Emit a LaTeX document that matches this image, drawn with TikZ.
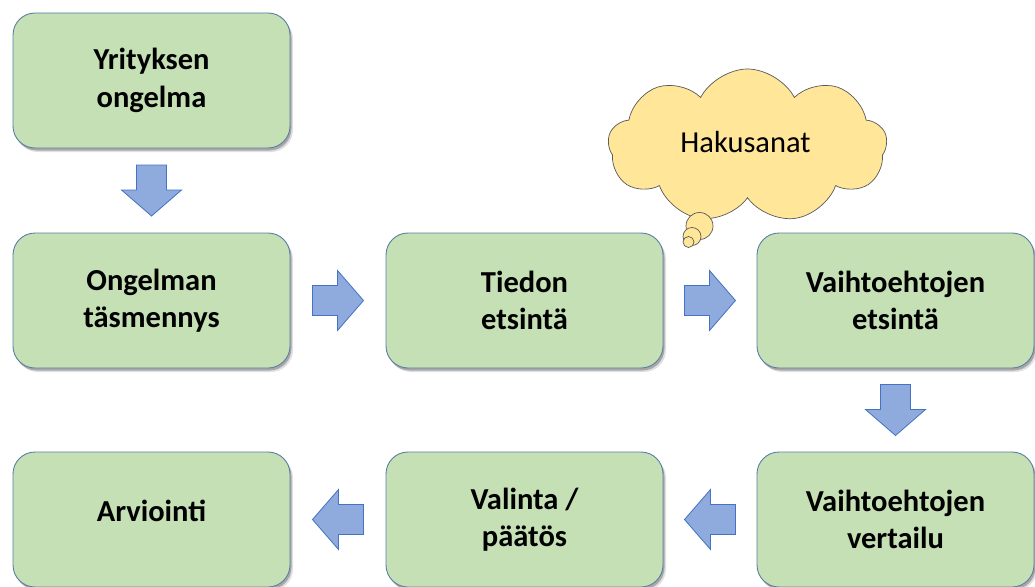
\documentclass[tikz,border=0pt]{standalone}
\usepackage{fontspec}
\setmainfont{Carlito}
\usetikzlibrary{shapes.symbols,shadows,calc}
\definecolor{boxfill}{HTML}{C5E0B4}
\definecolor{boxline}{HTML}{5B7FA6}
\definecolor{arrowfill}{HTML}{8FAADC}
\definecolor{arrowline}{HTML}{4472C4}
\definecolor{cloudfill}{HTML}{FFE699}
\definecolor{cloudline}{HTML}{595959}
\begin{document}
\begin{tikzpicture}[x=1pt,y=-1pt,
  stage/.style={draw=boxline, line width=0.9pt, fill=boxfill,
    rounded corners=22pt, minimum width=277pt, minimum height=135pt,
    inner sep=0pt, align=center, text=black,
    font=\fontsize{30.5}{37.5}\selectfont\bfseries,
    drop shadow={shadow xshift=3pt, shadow yshift=-4pt, opacity=0.12, fill=black},
    drop shadow={shadow xshift=1.5pt, shadow yshift=-2.5pt, opacity=0.25, fill=black}},
  arrowstyle/.style={draw=arrowline, line width=0.8pt, fill=arrowfill, line join=miter},
  barrow/.pic={\draw[arrowstyle] (-25.5,-15) -- (-0.5,-15) -- (-0.5,-30)
      -- (25.5,0) -- (-0.5,30) -- (-0.5,15) -- (-25.5,15) -- cycle;},
  bubble/.style={circle, draw=cloudline, line width=0.7pt, fill=cloudfill, inner sep=0pt}
]
\fill[white] (0,0) rectangle (1035,586);
\useasboundingbox (0,0) rectangle (1035,586);

% process stages
\node[stage] (p1) at (151.5,80.5)  {Yrityksen\\ongelma};
\node[stage] (p2) at (151.5,300.5) {Ongelman\\täsmennys};
\node[stage] (p3) at (524.5,300.5) {Tiedon\\etsintä};
\node[stage] (p4) at (895.5,300.5) {Vaihtoehtojen\\etsintä};
\node[stage] (p5) at (895.5,519.5) {Vaihtoehtojen\\vertailu};
\node[stage] (p6) at (524.5,519.5) {Valinta /\\päätös};
\node[stage, text depth=18pt] (p7) at (151.5,519.5) {Arviointi};

% block arrows between the stages
\pic[rotate=-90] at ($(p1.south)!0.5!(p2.north)$) {barrow};
\pic at ($(p2.east)!0.5!(p3.west)$) {barrow};
\pic at ($(p3.east)!0.5!(p4.west)$) {barrow};
\pic[rotate=-90] at ($(p4.south)!0.5!(p5.north)$) {barrow};
\pic[rotate=180] at ($(p5.west)!0.5!(p6.east)$) {barrow};
\pic[rotate=180] at ($(p6.west)!0.5!(p7.east)$) {barrow};

% thought cloud with keywords
\node[cloud, cloud puffs=9, cloud puff arc=125, aspect=1.85, draw=cloudline, line width=0.7pt,
  fill=cloudfill, minimum width=279pt, minimum height=154pt, inner sep=0pt]
  (kw) at (747.5,146) {};
\node[font=\fontsize{30.5}{37.5}\selectfont] (kwtext) at (745.5,142) {Hakusanat};
\node[bubble, minimum size=27pt] (b1) at (699.5,226) {};
\node[bubble, minimum size=18pt] (b2) at (692,236.5) {};
\node[bubble, minimum size=11pt] (b3) at (688.5,242) {};
\end{tikzpicture}
\end{document}
